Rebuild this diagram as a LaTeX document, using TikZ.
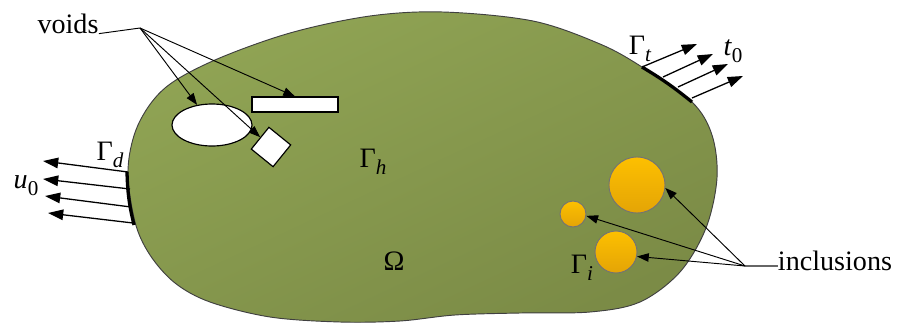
\documentclass[tikz,border=0pt]{standalone}
\usepackage{fontspec}
\setmainfont{Liberation Serif}
\usetikzlibrary{arrows.meta, positioning, shapes.geometric, calc}
\definecolor{bodytop}{RGB}{144,164,84}
\definecolor{bodybot}{RGB}{123,139,70}
\definecolor{incltop}{RGB}{253,192,0}
\definecolor{inclbot}{RGB}{228,164,6}

\newcommand{\gsub}[2]{#1\raisebox{-0.55ex}{\fontsize{9}{10}\selectfont\itshape #2}}

\tikzset{
  body/.style={draw=black!75, line width=0.4pt, top color=bodytop, bottom color=bodybot, shading angle=25},
  void/.style={draw, fill=white, line width=0.5pt, inner sep=0pt},
  incl/.style={circle, draw=black!55, line width=0.4pt, top color=incltop, bottom color=inclbot, inner sep=0pt},
  load/.style={-{Triangle[length=6.5pt,width=4.5pt]}, line width=0.55pt},
  pointer/.style={-{Triangle[length=5pt,width=3.6pt]}, line width=0.4pt},
  bnd/.style={line width=1.4pt},
  lbl/.style={font=\fontsize{12}{14}\selectfont, inner sep=0pt}
}

\begin{document}
\begin{tikzpicture}[x=0.015cm, y=-0.015cm]
  \useasboundingbox (0,0) rectangle (897,322);

  % domain
  \path[body] plot[smooth cycle, tension=0.55] coordinates {
    (128,170) (138,125) (165,88) (215,60) (290,33) (370,16) (443,12)
    (533,21) (600,44) (642,67) (692,102) (712,135) (717,178) (706,228)
    (680,272) (640,302) (590,312) (520,313) (455,315) (400,321) (340,322)
    (270,317) (210,302) (175,283) (150,255) (135,222)};

  % boundary parts
  \coordinate (d1) at (127,172);
  \coordinate (d2) at (134,225);
  \coordinate (t1) at (642,67);
  \coordinate (t2) at (692,102);
  \draw[bnd] (d1) to[bend right=6] (d2);
  \draw[bnd] (t1) to[bend left=4] (t2);

  % prescribed displacement
  \coordinate (ua) at (128,172);
  \coordinate (ub) at (130,189);
  \coordinate (uc) at (131,207);
  \coordinate (ud) at (133,223);
  \coordinate (ua') at (43,161);
  \coordinate (ub') at (43,179);
  \coordinate (uc') at (45,196);
  \coordinate (ud') at (48,213);
  \foreach \p in {ua,ub,uc,ud}
    \draw[load] (\p) -- (\p');

  % traction
  \coordinate (ta) at (642,67);
  \coordinate (tb) at (663,77);
  \coordinate (tc) at (678,87);
  \coordinate (td) at (692,98);
  \coordinate (ta') at (697,44);
  \coordinate (tb') at (713,54);
  \coordinate (tc') at (728,64);
  \coordinate (td') at (743,76);
  \foreach \p in {ta,tb,tc,td}
    \draw[load] (\p) -- (\p');

  % voids
  \node[void, ellipse, minimum width=1.2cm, minimum height=0.63cm] (void1) at (212,125) {};
  \node[void, rectangle, minimum width=1.29cm, minimum height=0.225cm] (void2) at (295,104.5) {};
  \node[void, rectangle, minimum size=0.42cm, rotate=-39] (void3) at (271,147) {};

  % inclusions
  \node[incl, minimum size=0.84cm] (inc1) at (637,185) {};
  \node[incl, minimum size=0.39cm] (inc2) at (573,214) {};
  \node[incl, minimum size=0.63cm] (inc3) at (616,252) {};

  % labels
  \node[lbl] (voidslbl) at (68,24) {voids};
  \node[lbl] (incllbl) at (835,261) {inclusions};
  \node[lbl] (gd) at (110,155) {\gsub{Γ}{d}};
  \node[lbl] (gt) at (640,49) {\gsub{Γ}{t}};
  \node[lbl] (gh) at (373,162) {\gsub{Γ}{h}};
  \node[lbl] (gi) at (582,268) {\gsub{Γ}{i}};
  \node[lbl] (omega) at (394,261) {Ω};
  \node[lbl] (ulbl) at (26,186) {\textit{u}\raisebox{-0.55ex}{\fontsize{9}{10}\selectfont 0}};
  \node[lbl] (tlbl) at (733,51) {\textit{t}\raisebox{-0.55ex}{\fontsize{9}{10}\selectfont 0}};

  % pointers
  \coordinate (vhub) at (140,28);
  \draw[line width=0.4pt] (voidslbl.base east) -- (vhub);
  \draw[pointer] (vhub) -- (void1);
  \draw[pointer] (vhub) -- (void3);
  \draw[pointer] (vhub) -- (void2.north);

  \coordinate (ihub) at (745,266);
  \draw[line width=0.5pt, black!60] (ihub) -- (ihub -| incllbl.west);
  \draw[pointer] (ihub) -- (inc1.-6);
  \draw[pointer] (ihub) -- (inc2.-8);
  \draw[pointer] (ihub) -- (inc3.-12);
\end{tikzpicture}
\end{document}
